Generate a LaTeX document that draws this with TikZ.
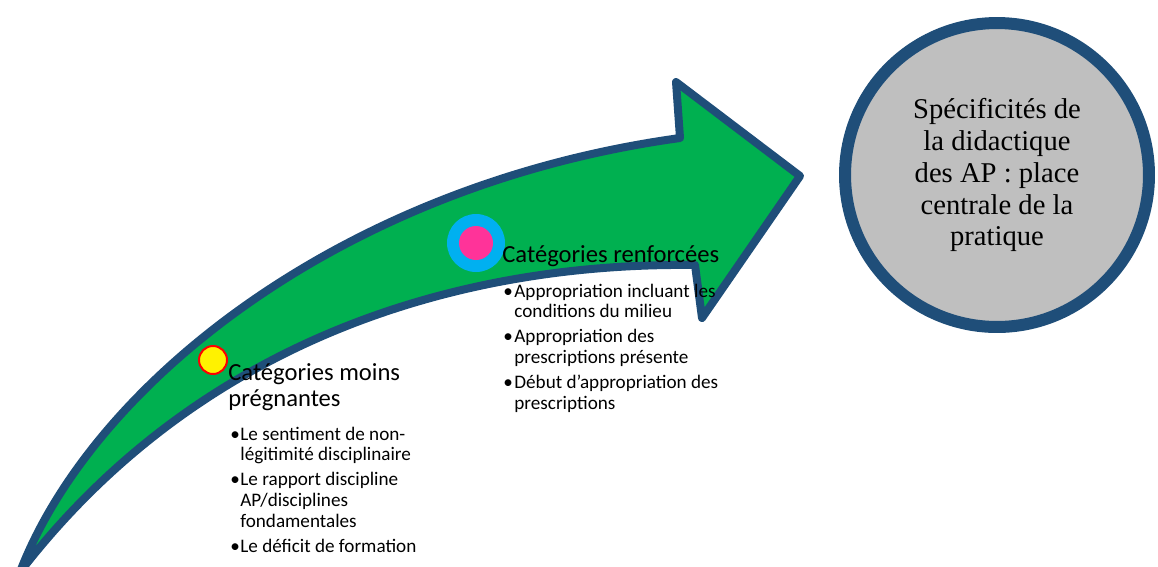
\documentclass[tikz,border=0pt]{standalone}
\usepackage{fontspec}
\setmainfont{Liberation Serif}
\newfontfamily\calibri{Carlito}
\usepackage{xcolor}
\definecolor{arrowgreen}{RGB}{0,176,80}
\definecolor{borderblue}{RGB}{31,78,121}
\definecolor{targetgray}{RGB}{191,191,191}
\definecolor{dotcyan}{RGB}{0,176,240}
\definecolor{dotpink}{RGB}{255,51,153}

\begin{document}
\begin{tikzpicture}[x=0.02cm, y=-0.02cm,
    heading/.style={font=\calibri\fontsize{14}{14.8}\selectfont, align=left, inner sep=0pt, anchor=base west},
    bullets/.style={font=\calibri\fontsize{10.9}{11.8}\selectfont, inner sep=0pt, anchor=base west}]
    \useasboundingbox (0,0) rectangle (1158,566);

    % Curved arrow
    \draw[fill=arrowgreen, draw=borderblue, line width=0.16cm, line join=round]
        (20,572) .. controls (92,385) and (340,185) .. (680,138)
        -- (676,82) -- (800,176) -- (702,318) -- (695,265)
        .. controls (450,262) and (195,345) .. cycle;

    % Markers
    \node[circle, fill=yellow, draw=red, line width=0.04cm, minimum size=0.56cm, inner sep=0pt] (lowdot) at (213,360) {};
    \node[circle, fill=dotcyan, minimum size=1.16cm, inner sep=0pt] (strongdot) at (476,243) {};
    \node[circle, fill=dotpink, minimum size=0.68cm, inner sep=0pt] (strongcore) at (strongdot) {};

    % Less significant categories
    \node[heading] (lowcat) at (228,406) {Catégories moins\\prégnantes};
    \node[bullets] (lowlist) at (230,440) {\begin{tabular}[t]{@{}l@{}l@{}}
        \makebox[5.7pt][l]{\textbullet} & Le sentiment de non-\\
        & légitimité disciplinaire\\[2.5pt]
        \textbullet & Le rapport discipline\\
        & AP/disciplines\\
        & fondamentales\\[2.5pt]
        \textbullet & Le déficit de formation
    \end{tabular}};

    % Reinforced categories
    \node[heading] (strongcat) at (502,262) {Catégories renforcées};
    \node[bullets] (stronglist) at (503,297) {\begin{tabular}[t]{@{}l@{}l@{}}
        \makebox[6.3pt][l]{\textbullet} & Appropriation incluant les\\
        & conditions du milieu\\[2.5pt]
        \textbullet & Appropriation des\\
        & prescriptions présente\\[2.5pt]
        \textbullet & Début d’appropriation des\\
        & prescriptions
    \end{tabular}};

    % Target
    \node[circle, fill=targetgray, draw=borderblue, line width=0.24cm, minimum size=6.08cm,
          align=center, font=\fontsize{16.3}{18.2}\selectfont] (spec) at (997,175)
        {Spécificités de\\la didactique\\des AP : place\\centrale de la\\pratique};
\end{tikzpicture}
\end{document}
